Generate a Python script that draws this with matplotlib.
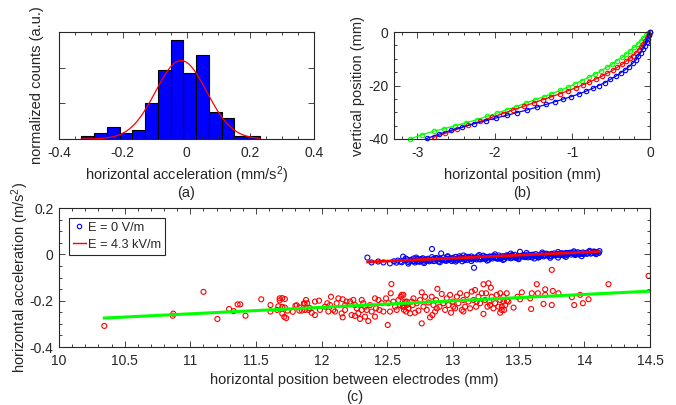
import matplotlib
matplotlib.use('Agg')
import matplotlib.pyplot as plt
from matplotlib.ticker import MultipleLocator
from matplotlib.lines import Line2D
import numpy as np

plt.rcParams['font.family'] = ['Liberation Sans', 'DejaVu Sans']
plt.rcParams['font.size'] = 10.5
plt.rcParams['mathtext.fontset'] = 'custom'
plt.rcParams['mathtext.rm'] = 'Liberation Sans'
plt.rcParams['mathtext.it'] = 'Liberation Sans'
TXT = '#262626'
FS = 10.5
TICK_FS = 10

# (a) histogram of horizontal acceleration
hist_edges = [-0.33, -0.29, -0.25, -0.21, -0.17, -0.13, -0.09, -0.05, -0.01,
              0.03, 0.07, 0.11, 0.15, 0.19, 0.23]
hist_heights = [0.09, 0.17, 0.33, 0.17, 0.25, 1.0, 1.94, 2.78, 1.85, 2.36,
                0.75, 0.58, 0.08, 0.08]
gauss_peak, gauss_mu, gauss_sigma = 2.2, -0.017, 0.08
gauss_range = [-0.33, 0.23]

# (b) trajectories
green_tx = [0, -0.02, -0.05, -0.09, -0.12, -0.16, -0.21, -0.26, -0.31, -0.36, -0.43,
            -0.49, -0.56, -0.63, -0.71, -0.79, -0.88, -0.97, -1.06, -1.16, -1.27,
            -1.37, -1.48, -1.60, -1.73, -1.84, -1.97, -2.10, -2.23, -2.37, -2.51,
            -2.65, -2.79, -2.94, -3.09]
green_ty = [0, -0.4, -1.2, -2.2, -3.2, -4.5, -5.7, -7.0, -8.2, -9.5, -10.7,
            -12.0, -13.2, -14.5, -15.7, -16.9, -18.2, -19.4, -20.7, -21.8, -23.1,
            -24.2, -25.3, -26.5, -28.0, -29.0, -30.3, -31.5, -32.8, -33.9, -35.0,
            -36.1, -37.1, -38.4, -40.0]
red_tx = [0, -0.015, -0.035, -0.06, -0.085, -0.115, -0.145, -0.18, -0.22, -0.26,
          -0.31, -0.36, -0.42, -0.48, -0.55, -0.62, -0.70, -0.78, -0.87, -0.96,
          -1.06, -1.16, -1.27, -1.38, -1.50, -1.63, -1.76, -1.90, -2.04, -2.19,
          -2.34, -2.49, -2.64, -2.79]
red_ty = [0, -1.1, -2.2, -3.3, -4.4, -5.5, -6.6, -7.7, -8.8, -9.9,
          -11.0, -12.1, -13.2, -14.3, -15.4, -16.5, -17.6, -18.7, -19.8, -20.9,
          -22.0, -23.1, -24.2, -25.3, -26.5, -27.8, -29.1, -30.5, -31.9, -33.4,
          -34.9, -36.4, -37.9, -39.4]
blue_tx = [0, -0.01, -0.025, -0.045, -0.07, -0.095, -0.12, -0.15, -0.18, -0.22,
           -0.27, -0.32, -0.38, -0.44, -0.51, -0.58, -0.66, -0.74, -0.83, -0.92,
           -1.02, -1.12, -1.23, -1.34, -1.46, -1.58, -1.71, -1.84, -1.98, -2.12,
           -2.27, -2.42, -2.57, -2.72, -2.88]
blue_ty = [0, -1.3, -2.6, -3.9, -5.2, -6.5, -7.8, -9.1, -10.4, -11.6,
           -12.9, -14.1, -15.3, -16.5, -17.7, -18.9, -20.0, -21.1, -22.2, -23.2,
           -24.2, -25.1, -26.1, -27.1, -28.1, -29.1, -30.1, -31.1, -32.1, -33.2,
           -34.3, -35.5, -36.8, -38.2, -39.8]

# (c) acceleration vs position, E = 0 V/m (blue)
e0_x = [12.348, 12.38, 12.52, 12.55, 12.58, 12.60, 12.62, 12.63, 12.65, 12.66,
        12.68, 12.69, 12.70, 12.71, 12.72, 12.73, 12.74, 12.75, 12.76, 12.77,
        12.78, 12.79, 12.80, 12.81, 12.82, 12.83, 12.84, 12.85, 12.86, 12.87,
        12.88, 12.89, 12.90, 12.91, 12.92, 12.93, 12.94, 12.95, 12.96, 12.97,
        12.98, 12.99, 13.00, 13.01, 13.02, 13.03, 13.04, 13.05, 13.06, 13.07,
        13.08, 13.09, 13.10, 13.11, 13.12, 13.13, 13.14, 13.15, 13.16, 13.17,
        13.18, 13.19, 13.20, 13.21, 13.22, 13.23, 13.24, 13.25, 13.26, 13.27,
        13.28, 13.29, 13.30, 13.31, 13.32, 13.33, 13.34, 13.35, 13.36, 13.37,
        13.38, 13.39, 13.40, 13.41, 13.42, 13.43, 13.44, 13.45, 13.46, 13.47,
        13.48, 13.49, 13.50, 13.51, 13.52, 13.53, 13.54, 13.55, 13.56, 13.57,
        13.58, 13.59, 13.60, 13.61, 13.62, 13.63, 13.64, 13.65, 13.66, 13.67,
        13.68, 13.69, 13.70, 13.71, 13.72, 13.73, 13.74, 13.75, 13.76, 13.77,
        13.78, 13.79, 13.80, 13.81, 13.82, 13.83, 13.84, 13.85, 13.86, 13.87,
        13.88, 13.89, 13.90, 13.91, 13.92, 13.93, 13.94, 13.95, 13.96, 13.97,
        13.98, 13.99, 14.00, 14.02, 14.04, 14.06, 14.08, 14.09, 14.10, 14.115,
        12.61, 12.67, 12.73, 12.79, 12.85, 12.91, 12.97, 13.03, 13.09, 13.15,
        13.21, 13.27, 13.33, 13.39, 13.45, 13.51, 13.57, 13.63, 13.69, 13.75,
        13.81, 13.87, 13.93, 13.99, 14.05, 14.11,
        12.64, 12.70, 12.76, 12.82, 12.88, 12.94, 13.00, 13.06, 13.12, 13.18,
        13.24, 13.30, 13.36, 13.42, 13.48, 13.54, 13.60, 13.66, 13.72, 13.78,
        13.84, 13.90, 13.96, 14.02, 14.08, 12.75, 12.95, 13.05, 13.25, 13.45,
        13.65, 13.85, 14.07, 12.57, 12.47, 12.43,
        12.66, 12.72, 12.78, 12.84, 12.90, 12.96, 13.02, 13.08, 13.14, 13.20,
        13.26, 13.32, 13.38, 13.44, 13.50, 13.56, 13.62, 13.68, 13.74, 13.80,
        13.86, 13.92, 13.98, 14.04]
e0_y = [-0.014, -0.035, -0.039, -0.030, -0.027, -0.031, -0.010, -0.026, -0.022, -0.033,
        -0.024, -0.029, -0.018, -0.035, -0.025, -0.020, -0.030, -0.023, -0.027, -0.017,
        -0.032, -0.022, -0.026, -0.019, -0.030, -0.024, 0.023, -0.020, -0.028, -0.016,
        -0.023, -0.031, -0.019, 0.004, -0.025, -0.014, -0.027, -0.020, -0.012, -0.024,
        -0.018, -0.029, -0.015, -0.021, -0.011, -0.026, -0.017, -0.022, -0.013, -0.030,
        -0.016, -0.020, -0.010, -0.024, -0.015, -0.019, -0.009, -0.022, -0.058, -0.014,
        -0.018, -0.008, -0.021, -0.012, -0.017, -0.006, -0.020, -0.011, -0.015, -0.024,
        -0.009, -0.013, -0.018, -0.006, -0.014, -0.010, -0.019, -0.005, -0.012, -0.016,
        -0.008, -0.021, -0.010, -0.004, -0.014, -0.009, -0.017, -0.006, -0.011, -0.002,
        -0.013, -0.008, -0.015, 0.011, -0.006, -0.010, -0.003, -0.012, -0.007, -0.001,
        -0.010, -0.005, -0.013, -0.002, -0.008, 0.001, -0.006, -0.011, -0.003, -0.007,
        0.002, -0.009, -0.004, 0.003, -0.006, -0.001, -0.008, 0.002, -0.003, 0.004,
        -0.005, 0.000, -0.014, 0.003, -0.002, 0.005, -0.004, 0.001, 0.006, -0.002,
        0.003, 0.007, -0.001, 0.004, 0.008, 0.001, 0.005, 0.009, 0.002, 0.006,
        0.003, 0.008, 0.004, 0.007, 0.010, 0.006, 0.011, 0.001, 0.009, 0.014,
        -0.034, -0.028, -0.031, -0.027, -0.029, -0.023, -0.021, -0.019, -0.025, -0.016,
        -0.022, -0.012, -0.017, -0.011, -0.014, -0.009, -0.013, -0.007, -0.003, -0.008,
        -0.004, 0.004, -0.003, 0.001, 0.003, 0.006,
        -0.018, -0.030, -0.020, -0.026, -0.017, -0.022, -0.024, -0.018, -0.011, -0.022,
        -0.013, -0.010, -0.019, -0.006, -0.016, -0.008, -0.002, -0.010, 0.000, -0.001,
        0.002, 0.006, -0.001, 0.002, 0.005, -0.032, -0.028, -0.008, -0.019, -0.003,
        -0.014, -0.006, 0.012, -0.036, -0.035, -0.031,
        -0.040, -0.014, -0.038, -0.012, -0.034, -0.008, -0.031, -0.005, -0.029, -0.003,
        -0.027, 0.000, -0.024, 0.003, -0.021, 0.006, -0.018, 0.008, -0.015, 0.010,
        -0.011, 0.013, -0.008, 0.015]
e0_fit_x = [12.35, 14.11]
e0_fit_y = [-0.033, 0.012]

# (c) E = 4.3 kV/m (red)
e43_x = [10.345, 10.866, 10.87, 11.10, 11.206, 11.295, 11.33, 11.36, 11.38, 11.42,
         11.54, 11.61, 11.61, 11.66, 11.67, 11.68, 11.68, 11.70, 11.70, 11.70,
         11.715, 11.72, 11.72, 11.73, 11.74, 11.78, 11.80, 11.81, 11.83, 11.83,
         11.85, 11.87, 11.89, 11.90, 11.91,
         11.865, 11.873, 11.881, 11.949, 11.980, 11.987, 11.924, 11.949, 12.025, 12.043,
         12.063, 12.071, 12.051, 12.089, 12.102, 12.114, 12.127, 12.160, 12.160, 12.152,
         12.178, 12.178, 12.190, 12.216, 12.228, 12.241, 12.254, 12.254, 12.267, 12.279,
         12.292, 12.305, 12.305, 12.317, 12.330, 12.330, 12.343, 12.355, 12.368, 12.381,
         12.406, 12.406, 12.414, 12.432, 12.439, 12.457, 12.470, 12.490, 12.503, 12.508,
         12.520, 12.526, 12.531, 12.546, 12.559, 12.571, 12.584, 12.597, 12.602, 12.622,
         12.627, 12.635, 12.642, 12.647, 12.660,
         12.610, 12.617, 12.627, 12.648, 12.660, 12.673, 12.693, 12.699, 12.711, 12.724,
         12.737, 12.749, 12.762, 12.762, 12.775, 12.787, 12.800, 12.813, 12.825, 12.838,
         12.843, 12.851, 12.864, 12.871, 12.881, 12.897, 12.914, 12.927, 12.940, 12.952,
         12.965, 12.978, 12.985, 12.998, 13.016, 13.029, 13.041, 13.054, 13.067, 13.079,
         13.092, 13.105, 13.117, 13.130, 13.143, 13.156, 13.168, 13.176, 13.194, 13.206,
         13.219, 13.232, 13.232, 13.244, 13.252, 13.262, 13.270, 13.277, 13.288, 13.295,
         13.308, 13.321, 13.333, 13.346, 13.359, 13.371, 13.384, 13.397, 13.409, 13.422,
         12.635, 12.686, 12.876, 13.003, 13.079, 13.181, 13.282, 13.359,
         13.359, 13.372, 13.384, 13.389, 13.410, 13.461, 13.491, 13.524, 13.511, 13.595,
         13.600, 13.588, 13.638, 13.646, 13.689, 13.702, 13.702, 13.752, 13.752, 13.760,
         13.803, 13.905, 13.923, 13.968, 13.989, 14.032, 14.184, 14.489]
e43_y = [-0.309, -0.265, -0.256, -0.162, -0.279, -0.236, -0.245, -0.216, -0.216, -0.265,
         -0.194, -0.219, -0.247, -0.240, -0.224, -0.190, -0.199, -0.189, -0.227, -0.256,
         -0.270, -0.193, -0.230, -0.275, -0.243, -0.248, -0.222, -0.220, -0.229, -0.243,
         -0.243, -0.214, -0.211, -0.240, -0.232,
         -0.211, -0.240, -0.197, -0.204, -0.200, -0.240, -0.252, -0.262, -0.226, -0.211,
         -0.219, -0.183, -0.247, -0.240, -0.247, -0.211, -0.190, -0.194, -0.272, -0.255,
         -0.219, -0.240, -0.204, -0.204, -0.262, -0.197, -0.219, -0.266, -0.233, -0.255,
         -0.279, -0.197, -0.240, -0.211, -0.226, -0.269, -0.240, -0.288, -0.219, -0.247,
         -0.190, -0.269, -0.233, -0.197, -0.240, -0.211, -0.247, -0.190, -0.305, -0.211,
         -0.247, -0.168, -0.128, -0.204, -0.226, -0.240, -0.197, -0.219, -0.183, -0.175,
         -0.226, -0.204, -0.247, -0.219, -0.233,
         -0.175, -0.226, -0.240, -0.204, -0.233, -0.255, -0.219, -0.190, -0.252, -0.211,
         -0.243, -0.197, -0.164, -0.298, -0.226, -0.183, -0.240, -0.208, -0.272, -0.183,
         -0.262, -0.219, -0.247, -0.197, -0.149, -0.226, -0.171, -0.211, -0.240, -0.190,
         -0.219, -0.175, -0.252, -0.204, -0.233, -0.183, -0.211, -0.168, -0.240, -0.197,
         -0.226, -0.175, -0.204, -0.233, -0.161, -0.197, -0.154, -0.226, -0.183, -0.211,
         -0.168, -0.129, -0.257, -0.197, -0.168, -0.226, -0.125, -0.204, -0.144, -0.183,
         -0.233, -0.211, -0.175, -0.226, -0.197, -0.240, -0.183, -0.219, -0.168, -0.204,
         -0.211, -0.204, -0.233, -0.226, -0.247, -0.204, -0.219, -0.252,
         -0.168, -0.226, -0.204, -0.240, -0.201, -0.230, -0.183, -0.164, -0.194, -0.236,
         -0.168, -0.190, -0.129, -0.168, -0.214, -0.151, -0.175, -0.067, -0.219, -0.158,
         -0.168, -0.185, -0.219, -0.175, -0.211, -0.194, -0.129, -0.093]
e43_fit_x = [10.345, 14.5]
e43_fit_y = [-0.275, -0.159]


def matlab_style(ax):
    for s in ax.spines.values():
        s.set_color(TXT)
        s.set_linewidth(0.8)
    ax.tick_params(which='both', direction='in', top=True, right=True,
                   colors=TXT, labelcolor=TXT, labelsize=TICK_FS, width=0.6)
    ax.tick_params(which='major', length=4)
    ax.tick_params(which='minor', length=2)
    ax.tick_params(axis='x', pad=5)
    ax.tick_params(axis='y', pad=4)


fig = plt.figure(figsize=(6.76, 4.05), dpi=100)
W, H = 676, 405
ax_a = fig.add_axes([59 / W, 1 - 139 / H, 255 / W, 107 / H])
ax_b = fig.add_axes([394 / W, 1 - 139 / H, 256 / W, 107 / H])
ax_c = fig.add_axes([59 / W, 1 - 347 / H, 591 / W, 139 / H])

# (a)
edges = np.array(hist_edges)
ax_a.bar(edges[:-1], hist_heights, width=np.diff(edges), align='edge',
         color='#0000ff', edgecolor='black', linewidth=0.8)
gx = np.linspace(gauss_range[0], gauss_range[1], 200)
ax_a.plot(gx, gauss_peak * np.exp(-(gx - gauss_mu) ** 2 / (2 * gauss_sigma ** 2)),
          color='red', linewidth=0.9)
ax_a.set_xlim(-0.4, 0.4)
ax_a.set_ylim(0, 3)
ax_a.xaxis.set_minor_locator(MultipleLocator(0.05))
ax_a.yaxis.set_major_locator(MultipleLocator(1))
ax_a.set_yticklabels([])
ax_a.set_xticks([-0.4, -0.2, 0, 0.2, 0.4])
ax_a.set_xticklabels(['-0.4', '-0.2', '0', '0.2', '0.4'])
matlab_style(ax_a)
ax_a.set_xlabel('horizontal acceleration (mm/s$^2$)', color=TXT)
ax_a.xaxis.set_label_coords(0.5, -0.24)
ax_a.set_ylabel('normalized counts (a.u.)', color=TXT)
ax_a.yaxis.set_label_coords(-0.06, 0.5)
ax_a.text(0.5, -0.505, '(a)', transform=ax_a.transAxes, ha='center', va='center', color=TXT)

# (b)
for tx, ty, c in [(green_tx, green_ty, '#00ff00'), (red_tx, red_ty, 'red'),
                  (blue_tx, blue_ty, 'blue')]:
    ax_b.plot(tx, ty, '-o', color=c, markersize=3.2, markerfacecolor='none',
              markeredgewidth=0.8, linewidth=0.9, clip_on=False)
ax_b.set_xlim(-3.3, 0)
ax_b.set_ylim(-40, 0)
ax_b.xaxis.set_minor_locator(MultipleLocator(0.2))
ax_b.yaxis.set_minor_locator(MultipleLocator(5))
ax_b.set_xticks([-3, -2, -1, 0])
ax_b.set_xticklabels(['-3', '-2', '-1', '0'])
ax_b.set_yticks([-40, -20, 0])
ax_b.set_yticklabels(['-40', '-20', '0'])
matlab_style(ax_b)
ax_b.set_xlabel('horizontal position (mm)', color=TXT)
ax_b.xaxis.set_label_coords(0.5, -0.27)
ax_b.set_ylabel('vertical position (mm)', color=TXT)
ax_b.yaxis.set_label_coords(-0.112, 0.5)
ax_b.text(0.5, -0.505, '(b)', transform=ax_b.transAxes, ha='center', va='center', color=TXT)

# (c)
ax_c.scatter(e43_x, e43_y, s=13, facecolors='none', edgecolors='red', linewidths=0.8)
ax_c.plot(e43_fit_x, e43_fit_y, color='#00ff00', linewidth=2.2)
ax_c.scatter(e0_x, e0_y, s=13, facecolors='none', edgecolors='blue', linewidths=0.8)
ax_c.plot(e0_fit_x, e0_fit_y, color='red', linewidth=2)
ax_c.set_xlim(10, 14.5)
ax_c.set_ylim(-0.4, 0.2)
ax_c.xaxis.set_minor_locator(MultipleLocator(0.1))
ax_c.yaxis.set_minor_locator(MultipleLocator(0.05))
ax_c.set_xticks([10, 10.5, 11, 11.5, 12, 12.5, 13, 13.5, 14, 14.5])
ax_c.set_xticklabels(['10', '10.5', '11', '11.5', '12', '12.5', '13', '13.5', '14', '14.5'])
ax_c.set_yticks([-0.4, -0.2, 0, 0.2])
ax_c.set_yticklabels(['-0.4', '-0.2', '0', '0.2'])
matlab_style(ax_c)
ax_c.set_xlabel('horizontal position between electrodes (mm)', color=TXT)
ax_c.xaxis.set_label_coords(0.5, -0.185)
ax_c.set_ylabel('horizontal acceleration (m/s$^2$)', color=TXT)
ax_c.yaxis.set_label_coords(-0.048, 0.5)
ax_c.text(0.5, -0.36, '(c)', transform=ax_c.transAxes, ha='center', va='center', color=TXT)

handles = [Line2D([], [], linestyle='none', marker='o', markersize=3.2,
                  markerfacecolor='none', markeredgecolor='blue', markeredgewidth=0.8),
           Line2D([], [], color='red', linewidth=1)]
leg = ax_c.legend(handles, ['E = 0 V/m', 'E = 4.3 kV/m'], loc='upper left',
                  bbox_to_anchor=(0.017, 0.93), fancybox=False, framealpha=1,
                  edgecolor=TXT, fontsize=9.2, handlelength=1.0, handletextpad=0.2,
                  borderpad=0.3, labelspacing=0.4, borderaxespad=0)
leg.get_frame().set_linewidth(0.8)
for t in leg.get_texts():
    t.set_color(TXT)

fig.savefig('out.png', dpi=100)
